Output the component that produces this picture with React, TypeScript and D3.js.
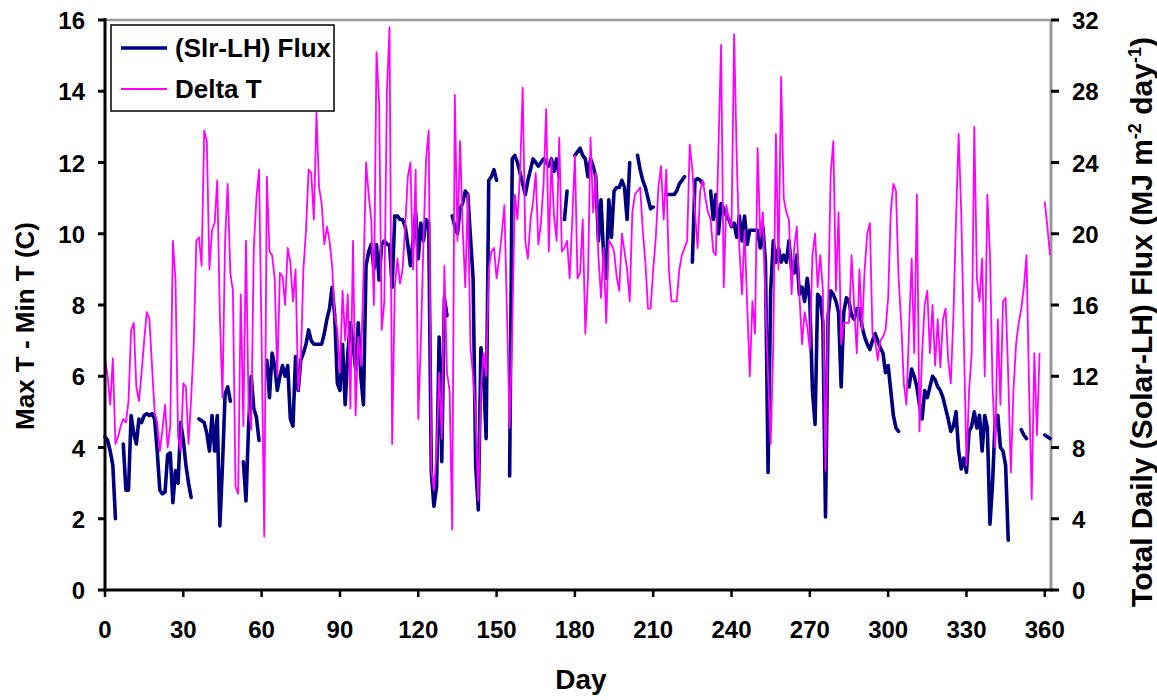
import React from "react";
import * as d3 from "d3";

const N = null;

// Max T - Min T (C), one value per day (index = day)
const deltaT: (number | null)[] = [
  6.5, 6.0, 5.2, 6.5, 4.1, 4.3, 4.6, 4.8, 4.7, 5.3,
  7.3, 7.5, 5.7, 5.3, 6.1, 7.0, 7.8, 7.6, 6.3, 5.0,
  4.7, 3.9, 4.5, 5.2, 4.0, 4.6, 9.8, 8.7, 4.3, 3.9,
  5.8, 5.7, 4.1, 5.4, 6.9, 9.8, 9.9, 9.1, 12.9, 12.6,
  9.0, 10.1, 10.3, 11.5, 7.7, 5.4, 9.8, 11.4, 8.9, 8.4,
  2.9, 2.7, 8.3, 4.6, 9.8, 5.1, 4.5, 9.6, 11.0, 11.8,
  7.0, 1.5, 11.6, 9.5, 9.4, 8.75, 6.0, 8.9, 8.8, 8.0,
  9.6, 9.2, 8.1, 9.0, 5.6, 6.4, 9.0, 10.1, 11.8, 11.7,
  10.4, 13.4, 11.3, 10.85, 9.7, 10.2, 9.8, 9.1, 7.7, 7.3,
  6.1, 8.4, 7.0, 8.3, 5.1, 9.8, 4.9, 7.1, 6.3, 8.75,
  12.0, 11.1, 10.4, 8.0, 15.1, 13.7, 7.3, 8.1, 14.0, 15.8,
  4.1, 8.5, 9.3, 8.6, 9.0, 10.2, 11.6, 12.0, 9.0, 11.8,
  4.8, 7.0, 9.8, 12.1, 12.9, 3.4, 2.8, 3.9, 6.1, 4.25,
  9.1, 6.1, 5.6, 1.7, 13.9, 9.8, 12.6, 10.2, 8.5, 11.1,
  6.8, 6.0, 4.9, 2.5, 5.6, 6.65, 6.0, 9.0, 9.5, 9.6,
  8.75, 9.3, 10.0, 10.8, 7.7, 4.55, 7.3, 11.1, 10.4, 11.7,
  14.1, 9.8, 9.3, 10.4, 10.9, 11.7, 9.7, 10.3, 11.4, 13.5,
  9.5, 12.1, 10.5, 9.8, 12.7, 9.5, 9.6, 9.8, 8.75, 10.4,
  12.2, 8.75, 8.9, 10.4, 7.2, 8.75, 12.7, 10.6, 11.7, 9.4,
  8.2, 9.6, 7.5, 9.8, 9.7, 9.5, 8.8, 8.4, 10.0, 9.5,
  9.0, 8.1, 10.6, 11.1, 11.2, 11.3, 10.1, 9.2, 7.9, 7.9,
  9.0, 9.9, 11.3, 11.9, 10.4, 11.8, 9.0, 8.1, 8.1, 8.1,
  9.0, 9.4, 9.6, 9.8, 12.5, 11.8, 10.6, 9.6, 11.2, 11.5,
  11.0, 10.6, 10.4, 9.5, 9.4, 12.4, 15.3, 8.5, 10.8, 10.4,
  10.2, 15.6, 12.1, 9.6, 8.3, 10.1, 8.0, 6.0, 8.1, 7.2,
  12.4, 9.9, 10.6, 8.1, 6.0, 4.1, 6.9, 12.8, 9.0, 14.4,
  11.0, 10.6, 10.4, 8.3, 9.6, 10.2, 8.3, 6.9, 7.8, 7.4,
  6.75, 9.4, 10.0, 8.5, 9.4, 8.4, 3.35, 8.0, 11.7, 12.6,
  8.4, 10.6, 6.9, 7.5, 7.5, 7.5, 9.4, 7.9, 6.65, 9.0,
  7.3, 9.0, 10.0, 10.3, 7.2, 7.0, 6.45, 7.0, 7.1, 7.3,
  8.2, 10.6, 11.4, 11.2, 8.75, 7.5, 5.8, 5.2, 7.3, 9.3,
  6.65, 11.1, 4.45, 6.65, 8.0, 8.4, 6.65, 8.0, 6.3, 7.6,
  6.25, 7.6, 7.9, 6.45, 5.8, 7.7, 10.4, 12.8, 10.6, 7.1,
  3.5, 5.6, 6.65, 13.0, 8.75, 8.1, 9.3, 6.0, 11.1, 9.4,
  5.7, 4.0, 7.6, 5.2, 8.1, 8.2, 6.0, 3.3, 5.6, 6.9,
  7.5, 7.9, 8.5, 9.4, 5.6, 2.55, 6.65, 4.35, 6.65, N,
  10.9, 10.2, 9.4,
];

// Total daily (Solar-LH) flux, MJ m-2 day-1, one value per day (index = day)
const flux: (number | null)[] = [
  8.6, 8.4, 7.8, 7.0, 4.0, N, N, 8.2, 5.6, 5.6,
  9.8, 8.8, 8.2, 9.6, 9.4, 9.8, 9.9, 9.8, 9.9, 9.6,
  7.8, 5.6, 5.4, 5.5, 7.6, 7.7, 4.9, 6.7, 6.0, 9.4,
  8.4, 7.0, 6.0, 5.2, N, N, 9.6, 9.5, 9.4, 8.8,
  7.8, 9.8, 7.8, 9.8, 3.6, 7.0, 11.0, 11.4, 10.6, N,
  N, N, N, 7.2, 5.0, 9.2, 12.0, 10.2, 9.7, 8.4,
  N, N, 12.9, 10.8, 13.3, 12.6, 11.2, 12.0, 12.6, 12.0,
  12.6, 9.6, 9.2, 13.1, 11.2, 12.9, 13.3, 13.8, 14.6, 14.0,
  13.8, 13.8, 13.8, 13.8, 14.4, 15.2, 15.8, 17.0, 15.4, 11.6,
  11.2, 13.8, 10.4, 13.3, 15.0, 13.8, 12.4, 15.0, 12.0, 10.4,
  18.2, 19.0, 19.4, 18.0, 19.4, 17.4, 19.4, 19.6, 19.4, 19.4,
  17.0, 21.0, 21.0, 20.8, 20.8, 20.4, 19.4, 18.2, 19.6, 21.2,
  18.6, 20.6, 19.6, 20.8, 20.6, 6.6, 4.7, 5.8, 14.2, 7.2,
  16.4, 15.4, N, 21.0, 20.4, 20.0, 21.4, 21.7, 22.4, 22.2,
  19.8, 17.5, 7.0, 4.5, 13.6, 12.2, 8.5, 23.0, 23.2, 23.6,
  23.0, N, N, N, N, 6.4, 24.2, 24.4, 24.0, 23.4,
  22.8, 22.2, 23.0, 23.6, 24.2, 24.0, 23.8, 24.0, 24.2, 24.0,
  23.8, 24.2, 23.5, 24.2, 23.2, N, 20.8, 22.4, N, N,
  24.4, 24.6, 24.8, 24.4, 24.2, 23.2, 24.2, 23.8, 23.2, 19.6,
  21.9, 18.8, 17.5, 21.9, 19.8, 22.4, 22.6, 22.6, 23.0, 22.6,
  20.8, 24.0, N, N, 24.4, 23.6, 23.0, 22.6, 22.0, 21.4,
  21.5, N, N, N, N, 22.2, 22.2, 22.2, 22.2, 22.4,
  22.8, 23.0, 23.2, N, N, 18.4, 23.0, 23.1, 23.0, 22.8,
  N, N, 22.4, 20.8, 22.2, 20.0, 21.7, 21.4, 21.0, 20.8,
  20.4, 20.6, 19.8, 21.0, 19.6, 21.0, 19.4, 20.2, 20.2, 20.2,
  20.2, 19.2, 20.4, 18.4, 6.6, 16.8, 19.6, 18.4, 19.2, 18.4,
  18.8, 18.4, 19.6, 18.0, 17.8, 18.8, 16.6, 17.0, 16.2, 17.5,
  16.2, 11.2, 9.3, 16.6, 16.4, 15.0, 4.1, 15.4, 16.8, 16.6,
  16.2, 15.6, 11.4, 15.6, 16.4, 16.2, 15.4, 15.2, 15.8, 15.8,
  14.8, 14.2, 13.8, 13.5, 14.0, 14.4, 14.0, 13.6, 13.3, 12.2,
  12.6, 11.2, 9.8, 9.1, 8.9, N, N, N, 11.4, 12.4,
  12.0, 11.4, 10.4, 9.6, 11.2, 10.8, 11.4, 12.0, 11.8, 11.4,
  11.2, 10.8, 10.2, 9.6, 8.9, 9.2, 10.0, 7.8, 6.8, 7.4,
  6.6, 8.9, 9.2, 10.0, 9.1, 9.8, 7.8, 9.8, 9.1, 3.7,
  6.0, 9.6, 9.8, 8.0, 7.8, 7.0, 2.8, N, N, N,
  N, 9.0, 8.7, 8.5, N, N, N, N, N, N,
  8.7, 8.6, 8.5,
];

const dayTicks = [0, 30, 60, 90, 120, 150, 180, 210, 240, 270, 300, 330, 360];
const leftTicks = [0, 2, 4, 6, 8, 10, 12, 14, 16];
const rightTicks = [0, 4, 8, 12, 16, 20, 24, 28, 32];
const seriesNames = ["(Slr-LH) Flux", "Delta T"];
const seriesColors = ["#000080", "#FF00FF"];

const FONT = "Arial, 'Liberation Sans', Helvetica, sans-serif";

export default function App() {
  const W = 1157;
  const H = 700;
  const left = 105;
  const right = 1051;
  const top = 20;
  const bottom = 590;

  const x = d3.scaleLinear().domain([0, 362]).range([left, 1050]);
  const yL = d3.scaleLinear().domain([0, 16]).range([bottom, top]);
  const yR = d3.scaleLinear().domain([0, 32]).range([bottom, top]);

  type P = [number, number | null];
  const tPts: P[] = deltaT.map((v, i) => [i, v]);
  const fPts: P[] = flux.map((v, i) => [i, v]);

  const lineT = d3
    .line<P>()
    .defined((d) => d[1] != null)
    .x((d) => x(d[0]))
    .y((d) => yL(d[1] as number));
  const lineF = d3
    .line<P>()
    .defined((d) => d[1] != null)
    .x((d) => x(d[0]))
    .y((d) => yR(d[1] as number));

  const tickFont = 24;

  return (
    <svg
      width={W}
      height={H}
      style={{ position: "absolute", left: 0, top: 0, background: "#fff" }}
      fontFamily={FONT}
    >
      <rect x={0} y={0} width={W} height={H} fill="#fff" />

      {/* plot frame: top and right in gray */}
      <line x1={left} x2={right} y1={top} y2={top} stroke="#999" strokeWidth={2.5} />
      <line x1={right} x2={right} y1={top} y2={bottom} stroke="#999" strokeWidth={3} />

      {/* series */}
      <path d={lineF(fPts) || ""} fill="none" stroke={seriesColors[0]} strokeWidth={3.6} strokeLinejoin="round" strokeLinecap="round" />
      <path d={lineT(tPts) || ""} fill="none" stroke={seriesColors[1]} strokeWidth={1.8} strokeLinejoin="round" />

      {/* left axis */}
      <line x1={left} x2={left} y1={top - 2} y2={bottom + 1} stroke="#000" strokeWidth={3} />
      {leftTicks.map((t) => (
        <g key={"l" + t}>
          <line x1={left - 7} x2={left} y1={yL(t)} y2={yL(t)} stroke="#000" strokeWidth={3} />
          <text x={85} y={yL(t) + 9} textAnchor="end" fontSize={tickFont} fontWeight="bold">
            {t}
          </text>
        </g>
      ))}

      {/* bottom axis */}
      <line x1={left - 1.5} x2={right + 1.5} y1={bottom} y2={bottom} stroke="#000" strokeWidth={3} />
      {dayTicks.map((t) => (
        <g key={"b" + t}>
          <line x1={x(t)} x2={x(t)} y1={bottom} y2={bottom + 7} stroke="#000" strokeWidth={2.5} />
          <text x={x(t)} y={638} textAnchor="middle" fontSize={tickFont} fontWeight="bold">
            {t}
          </text>
        </g>
      ))}

      {/* right axis ticks and labels */}
      {rightTicks.map((t) => (
        <g key={"r" + t}>
          <line x1={right} x2={right + 8} y1={yR(t)} y2={yR(t)} stroke="#000" strokeWidth={3} />
          <text x={1072} y={yR(t) + 9} textAnchor="start" fontSize={tickFont} fontWeight="bold">
            {t}
          </text>
        </g>
      ))}

      {/* axis titles */}
      <text
        transform={`translate(34, 326) rotate(-90)`}
        textAnchor="middle"
        fontSize={26}
        fontWeight="bold"
      >
        Max T - Min T (C)
      </text>
      <text x={581} y={689} textAnchor="middle" fontSize={28} fontWeight="bold">
        Day
      </text>
      <text
        transform={`translate(1152, 322) rotate(-90)`}
        textAnchor="middle"
        fontSize={30}
        fontWeight="bold"
      >
        Total Daily (Solar-LH) Flux (MJ m
        <tspan fontSize={18} dy={-11}>-2</tspan>
        <tspan dy={11}> day</tspan>
        <tspan fontSize={18} dy={-11}>-1</tspan>
        <tspan dy={11}>)</tspan>
      </text>

      {/* legend */}
      <rect x={111} y={25} width={223} height={86} fill="#fff" stroke="#000" strokeWidth={1.5} />
      <line x1={121} x2={167} y1={48} y2={48} stroke={seriesColors[0]} strokeWidth={3.6} />
      <text x={175} y={57} fontSize={26} fontWeight="bold">
        {seriesNames[0]}
      </text>
      <line x1={121} x2={167} y1={89} y2={89} stroke={seriesColors[1]} strokeWidth={1.8} />
      <text x={175} y={98} fontSize={26} fontWeight="bold">
        {seriesNames[1]}
      </text>
    </svg>
  );
}
